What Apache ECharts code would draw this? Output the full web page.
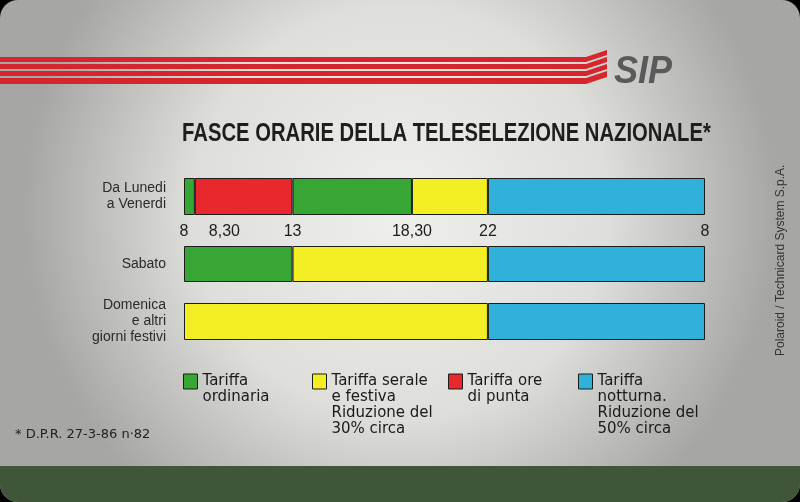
<!DOCTYPE html>
<html><head><meta charset="utf-8">
<script src="https://cdn.jsdelivr.net/npm/echarts@6/dist/echarts.min.js"></script>
<style>html,body{margin:0;padding:0;background:#000}#c{width:800px;height:502px}</style>
</head><body><div id="c"></div>
<script>
// ---- data ----
const days = ['Da Lunedi\na Venerdi', 'Sabato', 'Domenica\ne altri\ngiorni festivi'];
const tariffNames = ['Tariffa ordinaria', 'Tariffa serale e festiva', 'Tariffa ore di punta', 'Tariffa notturna'];
const legendLabels = ['Tariffa\nordinaria', 'Tariffa serale\ne festiva\nRiduzione del\n30% circa', 'Tariffa ore\ndi punta', 'Tariffa\nnotturna.\nRiduzione del\n50% circa'];
// hour boundaries (clock hours; 32 = 8 of the next morning)
const weekdayBounds = [8, 8.5, 13, 18.5, 22, 32];
const weekdayTariffs = [0, 2, 0, 1, 3];
const saturdayBounds = [8, 13, 22, 32];
const saturdayTariffs = [0, 1, 3];
const holidayBounds = [8, 22, 32];
const holidayTariffs = [1, 3];
const tickHours = [8, 8.5, 13, 18.5, 22, 32];
const tickLabels = ['8', '8,30', '13', '18,30', '22', '8'];
const titleText = 'FASCE ORARIE DELLA TELESELEZIONE NAZIONALE*';
const footnoteText = '* D.P.R. 27-3-86 n·82';
const sideText = 'Polaroid / Technicard System S.p.A.';

// ---- styles ----
const colors = ['#37a635', '#f3ef24', '#e8282d', '#2fb1d9'];
const START = 8, SPAN = 24;
const gridBoxes = [{top: 178, height: 37}, {top: 246, height: 36}, {top: 303, height: 37}];
const dayBounds = [weekdayBounds, saturdayBounds, holidayBounds];
const dayTariffs = [weekdayTariffs, saturdayTariffs, holidayTariffs];

const grid = gridBoxes.map(g => ({left: 184, width: 521, top: g.top, height: g.height}));
const xAxis = gridBoxes.map((g, i) => ({
  type: 'value', gridIndex: i, min: 0, max: SPAN,
  show: i === 0,
  splitLine: {show: false}, axisLine: {show: false}, axisTick: {show: false},
  axisLabel: {
    show: i === 0,
    customValues: tickHours.map(h => h - START),
    showMinLabel: true, showMaxLabel: true, hideOverlap: false,
    margin: 9, fontSize: 16, color: '#1e1e1e', fontFamily: 'Liberation Sans',
    formatter: v => {
      const k = tickHours.findIndex(h => Math.abs(h - START - v) < 1e-6);
      const t = k >= 0 ? tickLabels[k] : '';
      return k === 1 ? '{s|' + t + '}' : t;
    },
    rich: {s: {padding: [0, 0, 0, 59], fontSize: 16, color: '#1e1e1e', fontFamily: 'Liberation Sans'}}
  }
}));
const yAxis = days.map((d, i) => ({
  type: 'category', gridIndex: i, data: [d],
  axisLine: {show: false}, axisTick: {show: false}, splitLine: {show: false},
  axisLabel: {margin: 18, fontSize: 14, lineHeight: 16, color: '#2b2b2b', fontFamily: 'Liberation Sans'}
}));

const series = [];
dayBounds.forEach((b, d) => {
  dayTariffs[d].forEach((t, i) => {
    series.push({
      type: 'bar', name: tariffNames[t], xAxisIndex: d, yAxisIndex: d, stack: 'day' + d,
      barWidth: '100%', silent: true,
      itemStyle: {color: colors[t], borderColor: '#1c1c1c', borderWidth: 1},
      data: [b[i + 1] - b[i]]
    });
  });
});

// legend text is centred on the icon, so leading blank lines put the first line beside it
const legendLeft = [183, 312, 448, 578];
const legend = tariffNames.map((n, k) => {
  const lines = legendLabels[k].split('\n').length;
  const total = 2 * lines - 1;
  const iconTop = 374;
  return {
    data: [n], left: legendLeft[k], top: iconTop + 7.5 - total * 8, padding: 0,
    icon: 'rect', itemWidth: 14, itemHeight: 15, selectedMode: false,
    itemStyle: {borderColor: '#1c1c1c', borderWidth: 1},
    formatter: () => '\n'.repeat(lines - 1) + legendLabels[k],
    textStyle: {fontSize: 15, lineHeight: 16, color: '#1a1a1a', fontFamily: 'DejaVu Sans'}
  };
});

const stripes = [[57, 62], [64, 69], [71, 76], [78, 84]];
const graphic = [
  {type: 'rect', z: -10, shape: {x: 0, y: 0, width: 800, height: 502, r: 18},
   style: {fill: {type: 'radial', x: 0.5, y: 0.42, r: 0.75,
     colorStops: [{offset: 0, color: '#efefeb'}, {offset: 0.55, color: '#dededb'}, {offset: 1, color: '#a6a6a4'}]}}},
  {type: 'rect', z: -9, shape: {x: 0, y: 466, width: 800, height: 36, r: [0, 0, 18, 18]},
   style: {fill: '#3f5638'}},
  ...stripes.map(s => ({type: 'polygon', z: -8,
    shape: {points: [[0, s[0]], [586, s[0]], [607, s[0] - 7], [607, s[1] - 7], [586, s[1]], [0, s[1]]]},
    style: {fill: '#d6262d'}})),
  {type: 'text', z: -8, x: 614, y: 54, scaleX: 0.95, style: {text: 'SIP', fill: '#5a5a5a',
    font: 'italic bold 38px "Liberation Sans"'}},
  {type: 'text', z: 5, x: 182, y: 134, scaleX: 0.81,
    style: {text: titleText, fill: '#1e1e1e', font: 'bold 25px "Liberation Sans"', verticalAlign: 'middle'}},
  {type: 'text', z: -8, x: 15, y: 428, style: {text: footnoteText, fill: '#222',
    font: '13px "DejaVu Sans"'}},
  {type: 'text', z: -8, x: 775, y: 356, rotation: Math.PI / 2,
    style: {text: sideText, fill: '#333', font: '12px "Liberation Sans"'}}
];

const chart = echarts.init(document.getElementById('c'), null, {renderer: 'canvas'});
chart.setOption({
  animation: false,
  backgroundColor: 'transparent',
  grid, xAxis, yAxis, series, legend, graphic
});
</script></body></html>
